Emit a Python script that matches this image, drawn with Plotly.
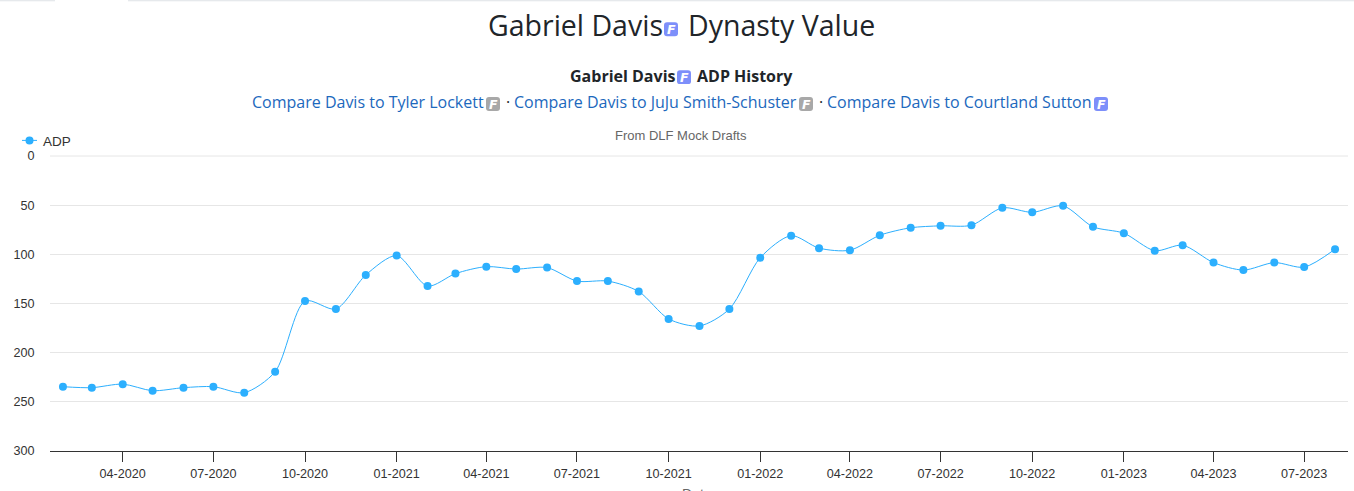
import plotly.graph_objects as go

W, H = 1354, 491
ML, MR, MT, MB = 50, 6, 156, 39.5

dates = [f"{y}-{m:02d}-01" for y, m in
         [(2020, m) for m in range(2, 13)] + [(2021, m) for m in range(1, 13)] +
         [(2022, m) for m in range(1, 13)] + [(2023, m) for m in range(1, 9)]]
adp = [234.6, 235.6, 232, 238.7, 235.6, 234.6, 240.7, 219.4, 147.5, 155.6, 121,
       101.3, 132.3, 119.6, 112.5, 115, 113.5, 127.2, 127.2, 137.8, 165.7, 172.8, 155.6,
       103.4, 81, 93.7, 95.8, 80.6, 73, 71, 70.4, 52.7, 57.3, 50.7, 72,
       78.5, 96.3, 90.7, 108.4, 116, 108.4, 113, 94.8]
x_ticks = ["2020-04-01", "2020-07-01", "2020-10-01", "2021-01-01", "2021-04-01", "2021-07-01",
           "2021-10-01", "2022-01-01", "2022-04-01", "2022-07-01", "2022-10-01", "2023-01-01",
           "2023-04-01", "2023-07-01"]
y_ticks = [0, 50, 100, 150, 200, 250, 300]

OPEN = "Open Sans"
ARIAL = "Liberation Sans, Arial"
LINK = "#1c68bd"
BLUE = "#7d8ffa"
GRAY = "#a8a8a8"
DARK = "#212529"
PW, PH = W - ML - MR, H - MT - MB


def px(x):
    return (x - ML) / PW


def py(y):
    return 1 - (y - MT) / PH


def text(x, y, s, size, color, family=OPEN, anchor="left"):
    return dict(xref="paper", yref="paper", x=px(x), y=py(y), text=s, showarrow=False,
                xanchor=anchor, yanchor="middle", borderpad=0,
                font=dict(family=family, size=size, color=color))


def badge(x0, y0, x1, y1, color):
    a, b, c, d = px(x0), px(x1), py(y0), py(y1)
    rx, ry = 3 / PW, 3 / PH
    path = (f"M{a + rx},{c} L{b - rx},{c} Q{b},{c} {b},{c - ry} L{b},{d + ry} Q{b},{d} {b - rx},{d} "
            f"L{a + rx},{d} Q{a},{d} {a},{d + ry} L{a},{c - ry} Q{a},{c} {a + rx},{c} Z")
    return dict(type="path", xref="paper", yref="paper", path=path, fillcolor=color, line_width=0, layer="above")


def badge_f(x0, y0, x1, y1):
    return text((x0 + x1) / 2, (y0 + y1) / 2, "<b><i>F</i></b>", 12.5, "white", family="DejaVu Sans", anchor="center")


badges = [(664, 22, 678, 36, BLUE), (677, 70, 691, 84, BLUE), (486, 97, 500, 111, GRAY),
          (799, 97, 813, 111, GRAY), (1094, 97, 1108, 111, BLUE)]

annotations = [
    text(486.5, 24.5, "Gabriel Davis", 28.5, DARK),
    text(686.5, 24.5, "Dynasty Value", 28.5, DARK),
    text(569, 75.6, "<b>Gabriel Davis</b>", 16, DARK),
    text(696, 75.6, "<b>ADP History</b>", 16, DARK),
    text(251, 101.6, "Compare Davis to Tyler Lockett", 16, LINK),
    text(505, 101.6, "·", 16, DARK),
    text(513, 101.6, "Compare Davis to JuJu Smith-Schuster", 16, LINK),
    text(818, 101.6, "·", 16, DARK),
    text(826, 101.6, "Compare Davis to Courtland Sutton", 16, LINK),
    text(681, 135, "From DLF Mock Drafts", 13, "#666666", family=ARIAL, anchor="center"),
    text(697, 495, "Date", 14, "#666666", family=ARIAL, anchor="center"),
] + [badge_f(*b[:4]) for b in badges]

shapes = [badge(*b) for b in badges] + [
    dict(type="line", xref="paper", yref="paper", x0=px(0), x1=px(55), y0=py(0.5), y1=py(0.5),
         line=dict(color="#dee2e6", width=1)),
    dict(type="line", xref="paper", yref="paper", x0=px(128), x1=px(W), y0=py(0.5), y1=py(0.5),
         line=dict(color="#dee2e6", width=1)),
    dict(type="line", xref="paper", yref="paper", x0=0, x1=1, y0=1, y1=1, layer="below",
         line=dict(color="#e6e6e6", width=1)),
]

fig = go.Figure(go.Scatter(
    x=dates, y=adp, name="ADP", mode="lines+markers",
    line=dict(color="#2caffe", width=1, shape="spline", smoothing=0.8),
    marker=dict(color="#2caffe", size=8),
))

fig.update_layout(
    width=W, height=H, autosize=False,
    margin=dict(l=ML, r=MR, t=MT, b=MB, pad=0, autoexpand=False),
    paper_bgcolor="white", plot_bgcolor="white",
    font=dict(family=ARIAL, size=12.6, color="#333333"),
    showlegend=True,
    legend=dict(x=px(3), y=py(140.6), xanchor="left", yanchor="middle", bgcolor="rgba(0,0,0,0)",
                font=dict(size=13.5, color="#333333"), itemwidth=30, borderwidth=0),
    annotations=annotations, shapes=shapes,
    xaxis=dict(type="date", range=["2020-01-19", "2023-08-14"], automargin=False,
               tickmode="array", tickvals=x_ticks, tickformat="%m-%Y",
               ticks="outside", ticklen=10, tickwidth=1, tickcolor="#333333", ticklabelstandoff=1,
               showline=True, linecolor="#333333", linewidth=1, showgrid=False, zeroline=False,
               tickfont=dict(size=12.6, color="#333333"), tickangle=0),
    yaxis=dict(range=[300, 0], tickmode="array", tickvals=y_ticks, automargin=False,
               ticks="outside", ticklen=12, tickcolor="rgba(0,0,0,0)",
               showgrid=True, gridcolor="#e6e6e6", gridwidth=1, zeroline=False, showline=False,
               tickfont=dict(size=12.6, color="#333333")),
)

post = """
document.body.style.margin='0';document.body.style.overflow='hidden';
document.querySelectorAll('.legendlines path').forEach(function(p){p.setAttribute('d','M19,0h15');});
document.querySelectorAll('.legendpoints path').forEach(function(p){p.setAttribute('transform','translate(26.5,0)');});
"""
fig.write_html("out.html", config=dict(displayModeBar=False), post_script=post)
